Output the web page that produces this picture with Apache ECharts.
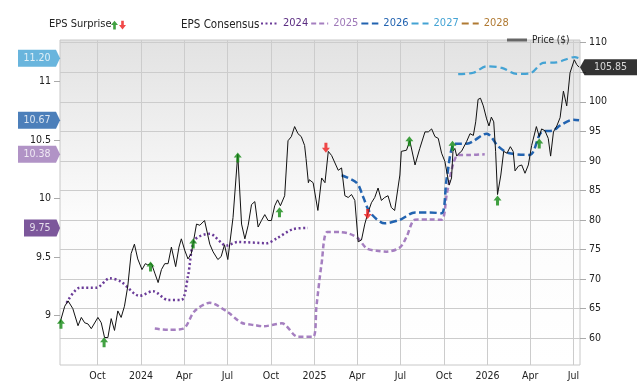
<!DOCTYPE html>
<html>
<head>
<meta charset="utf-8">
<script src="https://cdn.jsdelivr.net/npm/echarts@6/dist/echarts.min.js"></script>
<style>
html, body { margin: 0; padding: 0; background: #fff; }
#chart { width: 640px; height: 382px; }
</style>
</head>
<body>
<div id="chart"></div>
<script>
// price, weekly-ish closes
const price = [
  ['2023-07-14', 62.6], ['2023-07-24', 65.4], ['2023-07-31', 66.3], ['2023-08-03', 66.3], ['2023-08-10', 65.0],
  ['2023-08-21', 62.1], ['2023-08-28', 63.5], ['2023-09-04', 62.6], ['2023-09-11', 62.4], ['2023-09-18', 61.6],
  ['2023-10-02', 63.5], ['2023-10-09', 62.6], ['2023-10-16', 60.1], ['2023-10-23', 60.1], ['2023-10-30', 63.3],
  ['2023-11-06', 61.3], ['2023-11-13', 64.6], ['2023-11-20', 63.5], ['2023-11-27', 65.4], ['2023-12-04', 68.8],
  ['2023-12-11', 74.3], ['2023-12-18', 75.9], ['2023-12-25', 73.4], ['2024-01-03', 71.6], ['2024-01-10', 72.6],
  ['2024-01-15', 72.4], ['2024-01-23', 72.6], ['2024-01-30', 71.0], ['2024-02-06', 69.4], ['2024-02-13', 71.6],
  ['2024-02-20', 72.6], ['2024-02-27', 72.6], ['2024-03-05', 75.4], ['2024-03-14', 72.1], ['2024-03-21', 75.4],
  ['2024-03-26', 76.8], ['2024-04-02', 74.9], ['2024-04-09', 73.4], ['2024-04-16', 74.3], ['2024-04-27', 79.3],
  ['2024-05-04', 79.1], ['2024-05-14', 79.9], ['2024-05-25', 75.9], ['2024-06-01', 74.6], ['2024-06-11', 73.3],
  ['2024-06-18', 73.8], ['2024-06-25', 75.8], ['2024-07-02', 73.3], ['2024-07-13', 80.4], ['2024-07-23', 91.1],
  ['2024-07-31', 79.3], ['2024-08-07', 76.8], ['2024-08-14', 79.1], ['2024-08-21', 82.6], ['2024-08-28', 83.1],
  ['2024-09-04', 78.8], ['2024-09-11', 79.9], ['2024-09-18', 80.9], ['2024-09-25', 79.9], ['2024-10-02', 79.9],
  ['2024-10-09', 82.4], ['2024-10-15', 83.4], ['2024-10-21', 82.4], ['2024-10-30', 84.1], ['2024-11-06', 93.4],
  ['2024-11-13', 94.1], ['2024-11-20', 95.8], ['2024-11-27', 94.6], ['2024-12-04', 94.1], ['2024-12-11', 92.6],
  ['2024-12-14', 90.4], ['2024-12-19', 86.3], ['2024-12-21', 86.8], ['2024-12-29', 86.3], ['2025-01-08', 81.6],
  ['2025-01-16', 87.1], ['2025-01-23', 86.3], ['2025-01-30', 91.6], ['2025-02-06', 90.9], ['2025-02-20', 88.4],
  ['2025-02-27', 88.8], ['2025-03-06', 84.1], ['2025-03-13', 83.8], ['2025-03-20', 84.3], ['2025-03-27', 83.3],
  ['2025-04-03', 76.3], ['2025-04-10', 76.6], ['2025-04-17', 79.3], ['2025-04-24', 81.3], ['2025-05-01', 82.9],
  ['2025-05-08', 83.8], ['2025-05-15', 85.4], ['2025-05-22', 83.3], ['2025-05-29', 83.8], ['2025-06-05', 84.1],
  ['2025-06-12', 82.1], ['2025-06-19', 81.6], ['2025-06-30', 87.6], ['2025-07-03', 91.6], ['2025-07-14', 91.8],
  ['2025-07-21', 93.4], ['2025-08-01', 89.3], ['2025-08-11', 92.1], ['2025-08-22', 94.9], ['2025-08-29', 94.9],
  ['2025-09-05', 95.4], ['2025-09-12', 94.1], ['2025-09-19', 93.8], ['2025-09-26', 91.3], ['2025-10-03', 89.9],
  ['2025-10-12', 85.9], ['2025-10-17', 87.1], ['2025-10-20', 91.6], ['2025-10-24', 92.1], ['2025-10-28', 90.8],
  ['2025-11-02', 91.3], ['2025-11-07', 91.6], ['2025-11-18', 93.3], ['2025-11-25', 94.6], ['2025-12-02', 94.3],
  ['2025-12-07', 96.6], ['2025-12-12', 100.4], ['2025-12-17', 100.6], ['2025-12-23', 99.3], ['2025-12-30', 97.1],
  ['2026-01-04', 95.9], ['2026-01-09', 97.4], ['2026-01-14', 96.6], ['2026-01-18', 91.6], ['2026-01-22', 84.3],
  ['2026-01-29', 87.6], ['2026-02-04', 91.6], ['2026-02-11', 91.3], ['2026-02-18', 92.4], ['2026-02-24', 91.6],
  ['2026-02-28', 88.3], ['2026-03-07', 89.1], ['2026-03-14', 89.3], ['2026-03-21', 87.9], ['2026-03-28', 89.3],
  ['2026-04-04', 92.6], ['2026-04-14', 95.8], ['2026-04-20', 94.1], ['2026-04-25', 95.4], ['2026-05-02', 95.1],
  ['2026-05-09', 93.8], ['2026-05-14', 90.8], ['2026-05-20', 94.9], ['2026-05-27', 95.9], ['2026-06-03', 97.3],
  ['2026-06-10', 101.8], ['2026-06-17', 99.3], ['2026-06-24', 104.9], ['2026-07-03', 107.1], ['2026-07-08', 106.3],
  ['2026-07-13', 105.85]
];

// EPS consensus by fiscal year
const eps2024 = [
  ['2023-07-28', 9.11], ['2023-08-25', 9.24], ['2023-09-29', 9.24], ['2023-10-27', 9.32], ['2023-11-20', 9.29],
  ['2023-12-29', 9.17], ['2024-01-26', 9.21], ['2024-02-27', 9.135], ['2024-03-26', 9.135], ['2024-04-09', 9.34],
  ['2024-04-23', 9.645], ['2024-05-25', 9.70], ['2024-06-29', 9.60], ['2024-07-23', 9.63], ['2024-09-22', 9.62],
  ['2024-10-13', 9.66], ['2024-11-17', 9.74], ['2024-12-18', 9.75]
];
const eps2025 = [
  ['2024-01-30', 8.89], ['2024-02-27', 8.88], ['2024-03-30', 8.89], ['2024-04-23', 9.04], ['2024-05-25', 9.11],
  ['2024-07-02', 9.03], ['2024-07-31', 8.94], ['2024-08-28', 8.92], ['2024-09-15', 8.91], ['2024-10-24', 8.935],
  ['2024-11-27', 8.82], ['2024-12-29', 8.82], ['2025-01-05', 9.08], ['2025-01-16', 9.45], ['2025-01-28', 9.715],
  ['2025-02-23', 9.715], ['2025-03-16', 9.70], ['2025-04-03', 9.66], ['2025-04-21', 9.575], ['2025-05-12', 9.555],
  ['2025-06-02', 9.547], ['2025-06-30', 9.583], ['2025-07-14', 9.673], ['2025-08-01', 9.82], ['2025-09-01', 9.822],
  ['2025-09-26', 9.82], ['2025-10-07', 10.04], ['2025-10-20', 10.29], ['2025-10-31', 10.374], ['2025-11-25', 10.374],
  ['2025-12-26', 10.38]
];
const eps2026 = [
  ['2025-02-27', 10.20], ['2025-03-31', 10.136], ['2025-04-14', 10.01], ['2025-04-28', 9.883], ['2025-05-29', 9.79],
  ['2025-06-30', 9.82], ['2025-08-01', 9.883], ['2025-09-01', 9.883], ['2025-09-26', 9.875], ['2025-10-07', 10.18],
  ['2025-10-24', 10.47], ['2025-11-18', 10.47], ['2025-12-30', 10.556], ['2026-01-24', 10.445], ['2026-02-14', 10.39],
  ['2026-03-31', 10.374], ['2026-04-25', 10.57], ['2026-05-20', 10.584], ['2026-06-03', 10.626], ['2026-07-01', 10.675],
  ['2026-07-13', 10.67]
];
const eps2027 = [
  ['2025-10-31', 11.064], ['2025-12-02', 11.076], ['2025-12-30', 11.131], ['2026-01-31', 11.118], ['2026-03-03', 11.067],
  ['2026-03-31', 11.07], ['2026-04-28', 11.16], ['2026-05-27', 11.165], ['2026-07-04', 11.21], ['2026-07-13', 11.20]
];
const eps2028 = [];

// EPS surprise markers, placed at the price level
const beats = [
  ['2023-07-16', 62.45], ['2023-10-15', 59.3], ['2024-01-21', 72.1], ['2024-04-20', 76.0], ['2024-07-23', 90.55],
  ['2024-10-19', 81.3], ['2025-07-20', 93.3], ['2025-10-19', 92.55], ['2026-01-22', 83.3], ['2026-04-20', 92.95]
];
const misses = [['2025-01-25', 92.2], ['2025-04-23', 81.0]];

// latest consensus tags on the left axis
const latestEps = [
  { name: '2027', value: '11.20', color: '#44a3d4' },
  { name: '2026', value: '10.67', color: '#1f5fa9' },
  { name: '2025', value: '10.38', color: '#9e78b8' },
  { name: '2024', value: '9.75', color: '#5b2d82' }
];
const lastPrice = 105.85;

const xStart = '2023-07-14';
const xEnd = '2026-07-15';
const quarterTicks = ['2023-10-01', '2024-01-01', '2024-04-01', '2024-07-01', '2024-10-01', '2025-01-01',
  '2025-04-01', '2025-07-01', '2025-10-01', '2026-01-01', '2026-04-01', '2026-07-01'];
const priceTicks = [60, 65, 70, 75, 80, 85, 90, 95, 100, 105, 110];
const priceLabels = [60, 65, 70, 75, 80, 85, 90, 95, 100, 110];
const epsTicks = [9, 9.5, 10, 10.5, 11];

const FONT = "'Liberation Sans Narrow', 'Arial Narrow', 'DejaVu Sans Condensed', 'Liberation Sans', sans-serif";
const MONTHS = ['Jan', 'Feb', 'Mar', 'Apr', 'May', 'Jun', 'Jul', 'Aug', 'Sep', 'Oct', 'Nov', 'Dec'];
const ARROW_UP = 'path://M4,0 L8,5 L5.5,5 L5.5,10 L2.5,10 L2.5,5 L0,5 Z';
const ARROW_DOWN = 'path://M2.5,0 L5.5,0 L5.5,5 L8,5 L4,10 L0,5 L2.5,5 Z';
const TAG_RIGHT = 'path://M0,0 L38,0 L42,8.5 L38,17 L0,17 Z';
const TAG_LEFT = 'path://M0,8 L4.5,0 L57,0 L57,16 L4.5,16 Z';

const yearColors = {
  '2024': '#5b2d82', '2025': '#9e78b8', '2026': '#2263b0', '2027': '#44a3d4', '2028': '#b07a33'
};

// dates -> timestamps for a numeric x axis
const ts = d => +echarts.time.parse(d);
const toXY = arr => arr.map(p => [ts(p[0]), p[1]]);
const tsTicks = quarterTicks.map(ts);

const chart = echarts.init(document.getElementById('chart'), null, { renderer: 'canvas' });

function epsLine(name, data, type, width, color) {
  return {
    name: name,
    type: 'line',
    xAxisIndex: 0,
    yAxisIndex: 0,
    data: toXY(data),
    symbol: 'none',
    showSymbol: false,
    smooth: 0.3,
    lineStyle: { color: color, width: width, type: type, cap: 'butt' },
    itemStyle: { color: color },
    z: 3
  };
}

const option = {
  animation: false,
  textStyle: { fontFamily: FONT },
  title: [
    { text: 'EPS Surprise', left: 44, top: 14, textStyle: { fontSize: 11, fontWeight: 'normal', color: '#222', fontFamily: FONT } },
    { text: 'EPS Consensus', left: 176, top: 14, textStyle: { fontSize: 11.5, fontWeight: 'normal', color: '#222', fontFamily: FONT } }
  ],
  legend: [
    {
      data: [{ name: 'Beat', icon: ARROW_UP }], left: 106, top: 15, itemWidth: 7, itemHeight: 10,
      formatter: () => '', selectedMode: false
    },
    {
      data: [{ name: 'Miss', icon: ARROW_DOWN }], left: 114, top: 15, itemWidth: 7, itemHeight: 10,
      formatter: () => '', selectedMode: false
    },
    {
      data: ['2024', '2025', '2026', '2027', '2028'].map(y => ({ name: y, textStyle: { color: yearColors[y] } })),
      left: 255, top: 13, itemWidth: 17, itemHeight: 14, itemGap: 2, selectedMode: false,
      itemStyle: { opacity: 0 },
      textStyle: { fontSize: 11, fontFamily: FONT }
    },
    {
      data: [{ name: 'Price ($)', icon: 'rect', itemStyle: { color: '#666' } }],
      left: 502, top: 30, itemWidth: 20, itemHeight: 3, selectedMode: false,
      textStyle: { fontSize: 10, color: '#222', fontFamily: FONT }
    }
  ],
  grid: {
    left: 60, right: 60, top: 40, bottom: 12,
    show: true,
    borderColor: '#c8c8c8',
    borderWidth: 1,
    backgroundColor: {
      type: 'linear', x: 0, y: 0, x2: 0, y2: 1,
      colorStops: [{ offset: 0, color: '#e2e2e2' }, { offset: 0.55, color: '#fcfcfc' }, { offset: 1, color: '#ffffff' }]
    }
  },
  xAxis: {
    type: 'value',
    min: ts(xStart),
    max: ts(xEnd),
    axisLine: { show: false },
    axisTick: { show: false, customValues: tsTicks },
    splitLine: { show: true, lineStyle: { color: '#cccccc', width: 1 } },
    axisLabel: {
      customValues: tsTicks,
      margin: 6,
      fontSize: 10.5,
      color: '#222',
      fontFamily: FONT,
      formatter: v => {
        const d = new Date(v);
        return d.getMonth() === 0 ? String(d.getFullYear()) : MONTHS[d.getMonth()];
      }
    }
  },
  yAxis: [
    {
      type: 'value',
      position: 'left',
      min: 8.579,
      max: 11.356,
      axisLine: { show: false },
      axisTick: { show: true, length: 6, customValues: epsTicks, lineStyle: { color: '#aaa' } },
      splitLine: { show: false },
      axisLabel: { customValues: epsTicks, margin: 9, fontSize: 10.5, color: '#222', fontFamily: FONT }
    },
    {
      type: 'value',
      position: 'right',
      min: 55.45,
      max: 110.45,
      axisLine: { show: false },
      axisTick: { show: true, length: 6, customValues: priceTicks, lineStyle: { color: '#aaa' } },
      splitLine: { show: true, lineStyle: { color: '#cccccc', width: 1 } },
      axisLabel: { customValues: priceLabels, margin: 9, fontSize: 10.5, color: '#222', fontFamily: FONT }
    }
  ],
  series: [
    epsLine('2024', eps2024, [2, 2.5], 2.5, '#6a3b98'),
    epsLine('2025', eps2025, [5, 3], 2.5, '#a57fc0'),
    epsLine('2026', eps2026, [7, 3.5], 2.5, '#2263b0'),
    epsLine('2027', eps2027, [7, 4], 2.2, '#44a3d4'),
    epsLine('2028', eps2028, [7, 4], 2.5, '#b07a33'),
    {
      name: 'Price ($)',
      type: 'line',
      xAxisIndex: 0,
      yAxisIndex: 1,
      data: toXY(price),
      symbol: 'none',
      showSymbol: false,
      lineStyle: { color: '#111', width: 1 },
      itemStyle: { color: '#111' },
      z: 4
    },
    {
      name: 'Beat',
      type: 'scatter',
      xAxisIndex: 0,
      yAxisIndex: 1,
      data: toXY(beats),
      symbol: ARROW_UP,
      symbolSize: [8, 10],
      itemStyle: { color: '#138a13' },
      clip: false,
      z: 6
    },
    {
      name: 'Miss',
      type: 'scatter',
      xAxisIndex: 0,
      yAxisIndex: 1,
      data: toXY(misses),
      symbol: ARROW_DOWN,
      symbolSize: [8, 10],
      itemStyle: { color: '#ee1c1c' },
      clip: false,
      z: 6
    },
    {
      name: 'epsTags',
      type: 'scatter',
      xAxisIndex: 0,
      yAxisIndex: 0,
      clip: false,
      silent: true,
      z: 10,
      data: latestEps.map(t => {
        const w = t.value.length > 4 ? 42 : 36;
        return {
          value: [ts(xStart), parseFloat(t.value)],
          symbol: TAG_RIGHT,
          symbolSize: [w, 17],
          symbolOffset: [-w / 2, 0],
          itemStyle: { color: t.color },
          label: {
            show: true, position: 'inside', formatter: t.value, offset: [-2, 0],
            color: '#fff', fontSize: 10.5, fontFamily: FONT
          }
        };
      })
    },
    {
      name: 'priceTag',
      type: 'scatter',
      xAxisIndex: 0,
      yAxisIndex: 1,
      clip: false,
      silent: true,
      z: 10,
      data: [{
        value: [ts(xEnd), lastPrice],
        symbol: TAG_LEFT,
        symbolSize: [57, 16],
        symbolOffset: [28.5, 0],
        itemStyle: { color: '#000' },
        label: {
          show: true, position: 'inside', formatter: lastPrice.toFixed(2), offset: [2, 0],
          color: '#fff', fontSize: 10.5, fontFamily: FONT
        }
      }]
    }
  ]
};

chart.setOption(option);
</script>
</body>
</html>
